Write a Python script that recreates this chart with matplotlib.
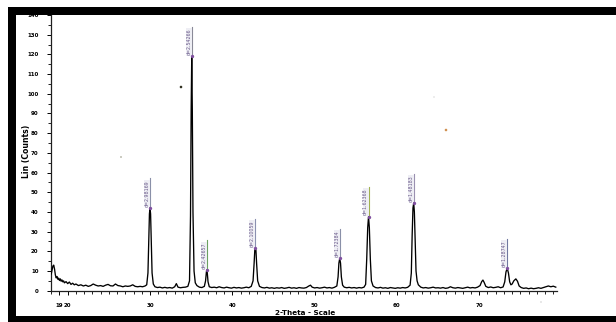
import numpy as np
import matplotlib
matplotlib.use("Agg")
import matplotlib.pyplot as plt
from matplotlib.patches import Rectangle, Ellipse

# ---------------- data ----------------
two_theta = [
    18.0, 18.1, 18.2, 18.3, 18.4, 18.5, 18.6, 18.7, 18.8, 18.9,
    19.0, 19.1, 19.2, 19.3, 19.4, 19.5, 19.6, 19.8, 20.0, 20.2,
    20.4, 20.6, 20.8, 21.0, 21.3, 21.6, 21.9, 22.2, 22.5, 22.8,
    23.1, 23.4, 23.7, 24.0, 24.3, 24.6, 24.9, 25.2, 25.5, 25.8,
    26.1, 26.4, 26.7, 27.0, 27.3, 27.6, 27.9, 28.2, 28.5, 28.8,
    29.1, 29.4, 29.6, 29.75, 29.85, 29.93, 30.0, 30.07, 30.15, 30.25,
    30.4, 30.6, 30.9, 31.2, 31.5, 31.8, 32.1, 32.4, 32.7, 33.0,
    33.2, 33.4, 33.7, 34.0, 34.3, 34.6, 34.8, 34.92, 35.0, 35.07,
    35.14, 35.22, 35.35, 35.5, 35.7, 36.0, 36.3, 36.6, 36.75, 36.85,
    36.9, 36.95, 37.05, 37.2, 37.5, 37.8, 38.1, 38.4, 38.7, 39.0,
    39.3, 39.6, 39.9, 40.2, 40.5, 40.8, 41.1, 41.4, 41.7, 42.0,
    42.3, 42.52, 42.65, 42.73, 42.8, 42.87, 42.95, 43.08, 43.3, 43.6,
    43.9, 44.2, 44.5, 44.8, 45.1, 45.4, 45.7, 46.0, 46.3, 46.6,
    46.9, 47.2, 47.5, 47.8, 48.1, 48.4, 48.7, 49.0, 49.3, 49.5,
    49.7, 50.0, 50.3, 50.6, 50.9, 51.2, 51.5, 51.8, 52.1, 52.4,
    52.7, 52.85, 52.95, 53.05, 53.15, 53.25, 53.4, 53.6, 53.9, 54.2,
    54.5, 54.8, 55.1, 55.4, 55.7, 56.0, 56.2, 56.33, 56.45, 56.55,
    56.65, 56.77, 56.9, 57.1, 57.4, 57.7, 58.0, 58.3, 58.6, 58.9,
    59.2, 59.5, 59.8, 60.1, 60.4, 60.7, 61.0, 61.3, 61.6, 61.75,
    61.85, 61.95, 62.04, 62.12, 62.22, 62.32, 62.45, 62.6, 62.9, 63.2,
    63.5, 63.8, 64.1, 64.4, 64.7, 65.0, 65.3, 65.6, 65.9, 66.2,
    66.5, 66.8, 67.1, 67.4, 67.7, 68.0, 68.3, 68.6, 68.9, 69.2,
    69.5, 69.8, 70.1, 70.3, 70.45, 70.6, 70.8, 71.1, 71.4, 71.7,
    72.0, 72.3, 72.6, 72.9, 73.1, 73.25, 73.4, 73.55, 73.7, 73.85,
    74.0, 74.2, 74.45, 74.65, 74.85, 75.1, 75.4, 75.7, 76.0, 76.3,
    76.6, 76.9, 77.2, 77.5, 77.8, 78.1, 78.4, 78.7, 79.0, 79.3,
]
counts = [
    8.5, 10.5, 12.5, 13.0, 11.0, 8.0, 6.5, 7.2, 5.8, 6.4,
    5.2, 6.0, 4.8, 5.5, 4.5, 5.0, 4.0, 4.6, 3.6, 4.4,
    3.2, 3.8, 3.0, 3.4, 2.6, 3.0, 2.4, 2.8, 2.2, 2.6,
    3.4, 2.8, 2.4, 2.6, 2.2, 2.8, 3.2, 2.5, 2.4, 3.4,
    2.6, 2.4, 2.0, 2.4, 2.2, 2.4, 3.0, 2.2, 2.0, 2.2,
    2.0, 2.4, 3.0, 9.0, 26.0, 39.0, 42.0, 39.0, 26.0, 9.0,
    3.4, 2.0, 1.6, 1.8, 1.4, 1.7, 1.4, 1.6, 1.3, 2.0,
    3.6, 1.8, 1.5, 1.7, 1.8, 2.2, 5.0, 38.0, 92.0, 119.0,
    92.0, 40.0, 10.0, 4.0, 2.6, 1.8, 1.6, 2.2, 5.0, 9.5,
    10.5, 9.5, 4.5, 2.0, 1.6, 1.8, 1.5, 2.0, 1.6, 1.4,
    1.8, 1.5, 1.3, 1.7, 1.4, 1.6, 1.3, 1.5, 1.8, 1.5,
    2.2, 5.0, 14.0, 20.5, 21.5, 20.5, 14.0, 5.0, 2.2, 1.6,
    1.4, 1.7, 1.3, 1.5, 1.2, 1.5, 1.3, 1.6, 1.2, 1.4,
    1.7, 1.3, 1.5, 1.2, 1.6, 1.4, 1.3, 1.6, 2.4, 2.8,
    1.8, 1.4, 1.6, 1.3, 1.5, 1.8, 1.4, 1.6, 1.3, 1.7,
    2.4, 7.0, 14.0, 16.4, 14.0, 7.0, 2.8, 1.8, 1.5, 1.7,
    1.4, 1.6, 1.3, 1.6, 1.4, 1.8, 3.2, 16.0, 32.0, 37.6,
    32.0, 16.0, 5.0, 2.4, 1.6, 1.4, 1.7, 1.3, 1.5, 1.2,
    1.6, 1.4, 1.2, 1.5, 1.3, 1.6, 1.4, 1.7, 2.8, 9.0,
    28.0, 42.0, 44.5, 40.0, 24.0, 10.0, 5.0, 3.0, 1.8, 1.4,
    1.6, 1.3, 1.5, 1.8, 1.4, 1.5, 1.3, 1.6, 1.2, 1.4,
    2.0, 1.5, 1.3, 1.6, 1.4, 1.2, 1.5, 1.8, 1.4, 1.6,
    1.4, 1.8, 2.6, 4.6, 5.4, 4.2, 2.2, 1.6, 1.9, 1.5,
    1.7, 2.0, 1.5, 1.9, 4.5, 9.5, 11.4, 9.0, 4.5, 3.0,
    3.4, 5.0, 6.0, 4.8, 2.4, 1.6, 1.2, 1.4, 1.0, 1.3,
    1.0, 1.2, 1.5, 1.2, 1.6, 2.0, 2.4, 2.0, 2.3, 1.8,
]

peak_positions = [30.0, 35.07, 36.9, 42.8, 53.05, 56.55, 62.04, 73.4]
peak_labels = ["d=2.98169", "d=2.54266", "d=2.42657", "d=2.10059",
               "d=1.72384", "d=1.62368", "d=1.48183", "d=1.28747"]

x_tick_values = [19, 20, 30, 40, 50, 60, 70]
x_tick_labels = ["19", "20", "30", "40", "50", "60", "70"]
y_tick_values = list(range(0, 141, 10))

x_label = "2-Theta - Scale"
y_label = "Lin (Counts)"

# ---------------- figure ----------------
W, H = 616, 322
fig = plt.figure(figsize=(W / 100, H / 100), dpi=100)
fig.patch.set_facecolor("white")

ax_left, ax_right, ax_bottom, ax_top = 51, 557, 290.7, 15
ax = fig.add_axes([ax_left / W, (H - ax_bottom) / H,
                   (ax_right - ax_left) / W, (ax_bottom - ax_top) / H])

ax.plot(two_theta, counts, color="black", lw=0.95, zorder=3)

ax.set_xlim(17.97, 79.45)
ax.set_ylim(0, 140)

for s in ["top", "right"]:
    ax.spines[s].set_visible(False)
for s in ["left", "bottom"]:
    ax.spines[s].set_linewidth(0.9)
    ax.spines[s].set_color("#202020")

ax.set_xticks(x_tick_values)
ax.set_xticklabels(x_tick_labels, fontsize=4.0, fontweight="bold")
ax.set_xticks(np.arange(18, 80, 1), minor=True)
ax.set_yticks(y_tick_values)
ax.set_yticklabels([str(v) for v in y_tick_values], fontsize=4.0, fontweight="bold")
ax.set_yticks(np.arange(5, 141, 10), minor=True)
ax.tick_params(axis="x", which="major", direction="out", length=3, width=0.7, pad=6)
ax.tick_params(axis="x", which="minor", direction="out", length=2.2, width=0.6)
ax.tick_params(axis="y", which="major", direction="out", length=3, width=0.7, pad=6)
ax.tick_params(axis="y", which="minor", direction="out", length=2, width=0.6)

# peak annotations
line_cols = ["#8a90a8", "#8a8a98", "#6aa060", "#8a90b0", "#8a90a8", "#a0b050", "#9a90b0", "#7078a0"]
tt = np.array(two_theta)
cc = np.array(counts)
for pos, lab, lc in zip(peak_positions, peak_labels, line_cols):
    top = float(np.interp(pos, tt, cc))
    ax.plot([pos, pos], [top, top + 15], color=lc, lw=0.8, zorder=4)
    ax.plot([pos], [top], marker="o", ms=1.4, color="#8050a0", zorder=5)
    ax.annotate(lab, xy=(pos, top + 0.6), xytext=(-0.3, 0), textcoords="offset points",
                rotation=90, ha="right", va="bottom", fontsize=3.4, color="#6a5a8a",
                bbox=dict(boxstyle="square,pad=0.1", fc="#eeeef4", ec="none"), zorder=4)

# axis labels
fig.text(27 / W, 1 - 151 / H, y_label, rotation=90, ha="center", va="center",
         fontsize=5.6, fontweight="bold")
fig.text(305 / W, 1 - 313 / H, x_label, ha="center", va="center",
         fontsize=5.2, fontweight="bold")

# black frame bands from the scan
def band(x0, y0, x1, y1):
    fig.add_artist(Rectangle((x0 / W, 1 - y1 / H), (x1 - x0) / W, (y1 - y0) / H,
                             transform=fig.transFigure, facecolor="black",
                             edgecolor="none", zorder=10))

band(8, 7, W, 15)
band(8, 7, 16, H)
band(8, 316, W, H)

# small specks on the scan
def speck(x, y, r, col):
    fig.add_artist(Ellipse((x / W, 1 - y / H), 2 * r / W, 2 * r / H,
                           transform=fig.transFigure, facecolor=col,
                           edgecolor="none", zorder=9))

speck(181, 87, 1.3, "#303020")
speck(121, 157, 0.9, "#b0b0a0")
speck(446, 130, 1.3, "#d09050")
speck(434, 97, 0.6, "#c0c0c0")
speck(541, 302, 0.6, "#b0b0b0")

fig.savefig("out.png", dpi=100, facecolor="white")
